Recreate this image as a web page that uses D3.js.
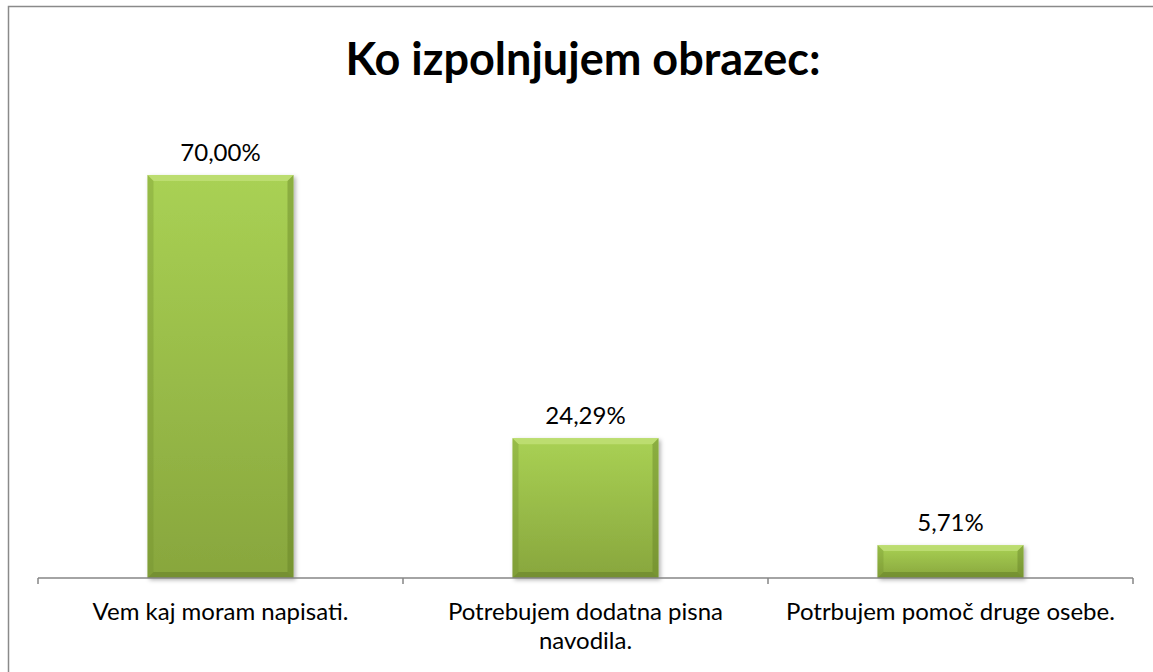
<!DOCTYPE html>
<html>
<head>
<meta charset="utf-8">
<script src="https://cdn.jsdelivr.net/npm/d3@7"></script>
<style>
  body { margin: 0; background: #fff; }
  svg { display: block; font-family: Lato, "Open Sans", sans-serif; }
</style>
</head>
<body>
<svg id="chart" width="1153" height="672"></svg>
<script>
const categories = ['Vem kaj moram napisati.', 'Potrebujem dodatna pisna navodila.', 'Potrbujem pomoč druge osebe.'];
const catLines = [['Vem kaj moram napisati.'], ['Potrebujem dodatna pisna', 'navodila.'], ['Potrbujem pomoč druge osebe.']];
const values = [70.00, 24.29, 5.71];
const valueLabels = ['70,00%', '24,29%', '5,71%'];
const title = 'Ko izpolnjujem obrazec:';

const svg = d3.select('#chart');
const W = 1153, H = 672;

// chart frame (only left/top visible in the reference crop)
svg.append('rect')
  .attr('x', 8.5).attr('y', 6.5)
  .attr('width', W).attr('height', H)
  .attr('fill', '#fff')
  .attr('stroke', '#8a8a8a').attr('stroke-width', 1.5);

const defs = svg.append('defs');
const grad = defs.append('linearGradient').attr('id', 'barFill')
  .attr('x1', 0).attr('y1', 0).attr('x2', 0).attr('y2', 1);
grad.append('stop').attr('offset', '0%').attr('stop-color', '#a9d154');
grad.append('stop').attr('offset', '100%').attr('stop-color', '#88a63d');

const shadow = defs.append('filter').attr('id', 'shadow')
  .attr('x', '-10%').attr('y', '-10%').attr('width', '130%').attr('height', '130%');
shadow.append('feDropShadow')
  .attr('dx', 2).attr('dy', 2).attr('stdDeviation', 2)
  .attr('flood-color', '#000').attr('flood-opacity', 0.3);

const x = d3.scaleBand()
  .domain(categories)
  .range([38, 1133])
  .paddingInner(0.6)
  .paddingOuter(0.3);

const y = d3.scaleLinear()
  .domain([0, 80])
  .range([578, 117.4]);

// title
svg.append('text')
  .attr('x', 583).attr('y', 75)
  .attr('text-anchor', 'middle')
  .attr('font-size', 45)
  .attr('font-weight', 'bold')
  .attr('fill', '#000')
  .text(title);

// bars with bevel
const bev = 6;
const bars = svg.selectAll('.bar').data(values).enter().append('g')
  .attr('class', 'bar')
  .attr('filter', 'url(#shadow)');

bars.append('rect')
  .attr('x', (d, i) => x(categories[i]))
  .attr('y', d => y(d))
  .attr('width', x.bandwidth())
  .attr('height', d => y(0) - y(d))
  .attr('fill', 'url(#barFill)');

const bevels = [
  { fill: '#c4e37c', op: 0.7, pts: (x0, x1, y0, y1) => [[x0, y0], [x1, y0], [x1 - bev, y0 + bev], [x0 + bev, y0 + bev]] },
  { fill: '#5f7a24', op: 0.5, pts: (x0, x1, y0, y1) => [[x0, y1], [x1, y1], [x1 - bev, y1 - bev], [x0 + bev, y1 - bev]] },
  { fill: '#6e8c2c', op: 0.3, pts: (x0, x1, y0, y1) => [[x0, y0], [x0 + bev, y0 + bev], [x0 + bev, y1 - bev], [x0, y1]] },
  { fill: '#5f7a24', op: 0.4, pts: (x0, x1, y0, y1) => [[x1, y0], [x1 - bev, y0 + bev], [x1 - bev, y1 - bev], [x1, y1]] }
];
bevels.forEach(b => {
  bars.append('polygon')
    .attr('points', (d, i) => {
      const x0 = x(categories[i]), x1 = x0 + x.bandwidth();
      return b.pts(x0, x1, y(d), y(0)).map(p => p.join(',')).join(' ');
    })
    .attr('fill', b.fill)
    .attr('opacity', b.op);
});

// data labels
svg.selectAll('.val').data(values).enter().append('text')
  .attr('class', 'val')
  .attr('x', (d, i) => x(categories[i]) + x.bandwidth() / 2)
  .attr('y', d => y(d) - 14)
  .attr('text-anchor', 'middle')
  .attr('font-size', 24)
  .attr('fill', '#000')
  .text((d, i) => valueLabels[i]);

// x axis line and ticks at category boundaries
const axisY = y(0);
const boundaries = d3.range(categories.length + 1).map(i => x.range()[0] + i * x.step());
svg.append('line')
  .attr('x1', x.range()[0]).attr('x2', x.range()[1])
  .attr('y1', axisY).attr('y2', axisY)
  .attr('stroke', '#868686').attr('stroke-width', 1.5);
svg.selectAll('.tick').data(boundaries).enter().append('line')
  .attr('x1', d => d).attr('x2', d => d)
  .attr('y1', axisY).attr('y2', axisY + 6)
  .attr('stroke', '#868686').attr('stroke-width', 1.5);

// category labels
const cat = svg.selectAll('.cat').data(catLines).enter().append('text')
  .attr('class', 'cat')
  .attr('x', (d, i) => x(categories[i]) + x.bandwidth() / 2)
  .attr('y', 620)
  .attr('text-anchor', 'middle')
  .attr('font-size', 24)
  .attr('fill', '#000');
cat.selectAll('tspan').data(d => d).enter().append('tspan')
  .attr('x', function () { return d3.select(this.parentNode).attr('x'); })
  .attr('dy', (d, i) => i === 0 ? 0 : 29)
  .text(d => d);
</script>
</body>
</html>
